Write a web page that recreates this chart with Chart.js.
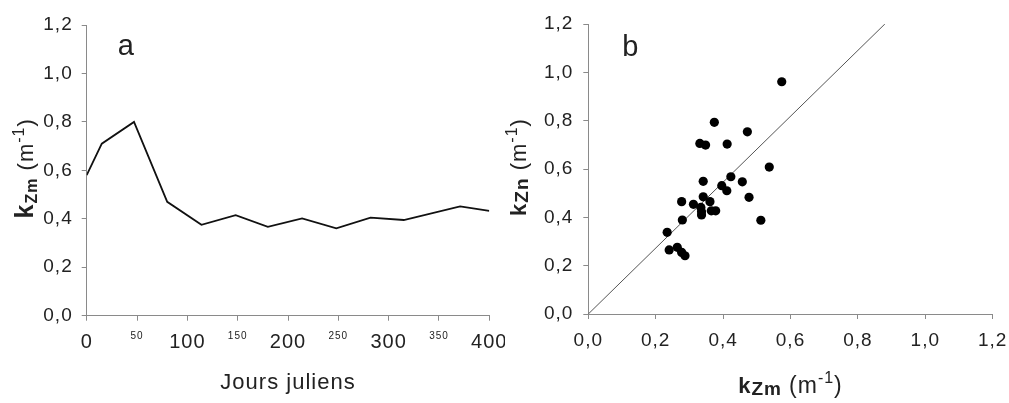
<!DOCTYPE html>
<html>
<head>
<meta charset="utf-8">
<script src="https://cdn.jsdelivr.net/npm/chart.js@4.4.1/dist/chart.umd.min.js"></script>
<style>
  html, body { margin: 0; padding: 0; background: #fff; overflow: hidden; }
  #wrap { position: relative; width: 1009px; height: 403px; }
  .panel { position: absolute; top: 0; height: 403px; }
  #panelA { left: 0; width: 505px; }
  #panelB { left: 505px; width: 504px; }
</style>
</head>
<body>
<div id="wrap">
  <div class="panel" id="panelA"><canvas id="chartA"></canvas></div>
  <div class="panel" id="panelB"><canvas id="chartB"></canvas></div>
</div>
<script>
// panel a: kZm over the year
const julianDays = [0, 15, 47, 80, 114, 148, 180, 214, 248, 282, 315, 371, 400];
const kzmSeries = [0.58, 0.71, 0.80, 0.47, 0.375, 0.415, 0.367, 0.402, 0.361, 0.405, 0.395, 0.451, 0.433];

// panel b: kZn against kZm
const kzmObs = [0.574, 0.374, 0.472, 0.331, 0.348, 0.412, 0.537, 0.423, 0.341, 0.457, 0.396, 0.411, 0.341, 0.477, 0.277,
  0.312, 0.361, 0.334, 0.336, 0.336, 0.365, 0.378, 0.279, 0.512, 0.234, 0.240, 0.264, 0.277, 0.287];
const kznObs = [0.961, 0.793, 0.754, 0.706, 0.699, 0.703, 0.608, 0.568, 0.549, 0.547, 0.531, 0.510, 0.485, 0.483, 0.465,
  0.454, 0.465, 0.441, 0.423, 0.410, 0.427, 0.427, 0.389, 0.388, 0.338, 0.265, 0.276, 0.255, 0.241];
const refLineX = [0, 0.88];
const refLineY = [0, 1.2];

// tick values
const dayTicks = [0, 50, 100, 150, 200, 250, 300, 350, 400];
const kTicks = [0, 0.2, 0.4, 0.6, 0.8, 1.0, 1.2];

const FONT = '"Liberation Sans", Arial, sans-serif';
const INK = '#222';
const AXIS = '#8a8a8a';

Chart.defaults.font.family = FONT;
Chart.defaults.color = INK;

const comma = v => v.toFixed(1).replace('.', ',');

// draws a label made of several runs (subscripts / superscripts), centred on x,y
function drawRich(ctx, parts, x, y, vertical) {
    ctx.save();
    ctx.letterSpacing = '1px';
    ctx.fillStyle = INK;
    ctx.textAlign = 'left';
    ctx.textBaseline = 'alphabetic';
    const widths = parts.map(p => { ctx.font = p.font; return ctx.measureText(p.text).width; });
    const total = widths.reduce((a, b) => a + b, 0);
    ctx.translate(x, y);
    if (vertical) ctx.rotate(-Math.PI / 2);
    let cx = -total / 2;
    parts.forEach((p, i) => {
        ctx.font = p.font;
        ctx.fillText(p.text, cx, p.dy || 0);
        cx += widths[i];
    });
    ctx.restore();
}

const axisTitles = {
    id: 'axisTitles',
    beforeDraw(chart) {
        chart.ctx.letterSpacing = '1px';
    },
    afterDraw(chart, args, opts) {
        const { ctx, chartArea } = chart;
        const midX = (chartArea.left + chartArea.right) / 2;
        const midY = (chartArea.top + chartArea.bottom) / 2;
        drawRich(ctx, opts.xTitle, midX, opts.xBaseline, false);
        drawRich(ctx, opts.yTitle, opts.yBaseline, midY - 2, true);
        ctx.save();
        ctx.fillStyle = INK;
        ctx.font = '29px ' + FONT;
        ctx.fillText(opts.letter, chartArea.left + opts.letterDx, opts.letterY);
        ctx.restore();
    }
};

// fixed axis band so the plot area sits where it should; edge labels may overhang
function fixBand(size, horizontal) {
    return scale => {
        if (horizontal) scale.height = size; else scale.width = size;
        scale.paddingLeft = 0;
        scale.paddingRight = 0;
        scale.paddingTop = 0;
        scale.paddingBottom = 0;
    };
}

function kAxis(fitSize, horizontal, padding) {
    return {
        type: 'linear',
        min: 0,
        max: 1.2,
        afterBuildTicks: scale => { scale.ticks = kTicks.map(v => ({ value: v })); },
        afterFit: fixBand(fitSize, horizontal),
        border: { color: AXIS, width: 1 },
        grid: { drawOnChartArea: false, tickLength: 5, color: AXIS },
        ticks: { padding, color: INK, font: { size: 19 }, maxRotation: 0, callback: v => comma(v) }
    };
}

const unitParts = [
    { text: '(m', font: '22px ' + FONT },
    { text: '-1', font: '16px ' + FONT, dy: -9 },
    { text: ')', font: '22px ' + FONT }
];

new Chart(document.getElementById('chartA'), {
    type: 'scatter',
    data: {
        datasets: [{
            data: julianDays.map((d, i) => ({ x: d, y: kzmSeries[i] })),
            showLine: true,
            borderColor: '#111',
            borderWidth: 1.8,
            pointRadius: 0,
            tension: 0
        }]
    },
    options: {
        responsive: true,
        maintainAspectRatio: false,
        animation: false,
        layout: { padding: { top: 25, right: 15.7, left: 0, bottom: 0 } },
        plugins: {
            legend: { display: false },
            tooltip: { enabled: false },
            axisTitles: {
                letter: 'a', letterDx: 31, letterY: 55,
                xBaseline: 389,
                xTitle: [{ text: 'Jours juliens', font: '22px ' + FONT }],
                yBaseline: 33,
                yTitle: [
                    { text: 'k', font: 'bold 25px ' + FONT },
                    { text: 'Zm', font: 'bold 16px ' + FONT, dy: 4 },
                    { text: ' ', font: '22px ' + FONT },
                    ...unitParts
                ]
            }
        },
        scales: {
            x: {
                type: 'linear',
                min: 0,
                max: 400,
                afterBuildTicks: scale => { scale.ticks = dayTicks.map(v => ({ value: v })); },
                afterFit: fixBand(87.3, true),
                border: { color: AXIS, width: 1 },
                grid: { drawOnChartArea: false, tickLength: 5, color: AXIS },
                ticks: {
                    padding: 10,
                    color: INK,
                    maxRotation: 0,
                    autoSkip: false,
                    font: c => ({ size: c.tick && c.tick.value % 100 === 0 ? 20 : 10 })
                }
            },
            y: kAxis(86.7, false, 9)
        }
    },
    plugins: [axisTitles]
});

new Chart(document.getElementById('chartB'), {
    type: 'scatter',
    data: {
        datasets: [{
            data: kzmObs.map((x, i) => ({ x, y: kznObs[i] })),
            backgroundColor: '#000',
            borderColor: '#000',
            pointRadius: 4.6,
            borderWidth: 0
        }, {
            data: refLineX.map((x, i) => ({ x, y: refLineY[i] })),
            showLine: true,
            borderColor: '#555',
            borderWidth: 1,
            pointRadius: 0
        }]
    },
    options: {
        responsive: true,
        maintainAspectRatio: false,
        animation: false,
        layout: { padding: { top: 24, right: 16.3, left: 0, bottom: 0 } },
        plugins: {
            legend: { display: false },
            tooltip: { enabled: false },
            axisTitles: {
                letter: 'b', letterDx: 34, letterY: 56,
                xBaseline: 393,
                xTitle: [
                    { text: 'k', font: 'bold 22px ' + FONT },
                    { text: 'Zm', font: 'bold 19px ' + FONT, dy: 2 },
                    { text: ' ', font: '22px ' + FONT },
                    { text: '(m', font: '23px ' + FONT },
                    { text: '-1', font: '16px ' + FONT, dy: -10 },
                    { text: ')', font: '23px ' + FONT }
                ],
                yBaseline: 21,
                yTitle: [
                    { text: 'k', font: 'bold 22px ' + FONT },
                    { text: 'Zn', font: 'bold 19px ' + FONT, dy: 2 },
                    { text: ' ', font: '22px ' + FONT },
                    ...unitParts
                ]
            }
        },
        scales: {
            x: kAxis(89, true, 10),
            y: kAxis(83.3, false, 10)
        }
    },
    plugins: [axisTitles]
});
</script>
</body>
</html>
